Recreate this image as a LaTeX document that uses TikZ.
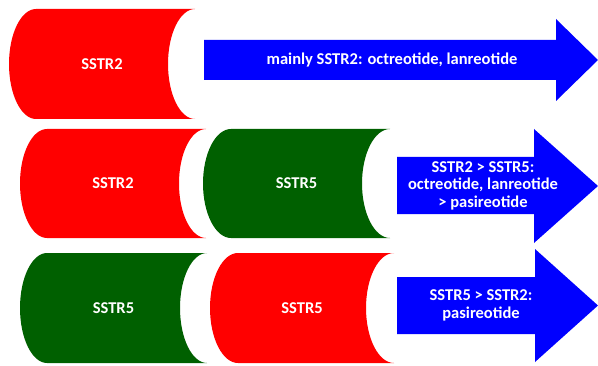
\documentclass[tikz,border=0pt]{standalone}
\usepackage{fontspec}
\setmainfont{Carlito}
\definecolor{sred}{RGB}{255,0,0}
\definecolor{sgreen}{RGB}{0,96,0}
\definecolor{sblue}{RGB}{0,0,255}
% #1 name, #2 colour, #3 x0, #4 x1, #5 top, #6 bottom, #7 r, #8 text
\newcommand\drawcyl[8]{%
  \fill[#2] ({#3+#7},#5) -- (#4,#5)
    arc[start angle=90, end angle=270, x radius=#7, y radius={(#5-#6)/2}]
    -- ({#3+#7},#6)
    arc[start angle=270, end angle=90, x radius=#7, y radius={(#5-#6)/2}]
    -- cycle;
  \node[lbl] (#1) at ({(#3+#4)/2},{(#5+#6)/2}) {#8};}
% #1 name, #2 rect x0, #3 head x, #4 rect top, #5 rect bottom, #6 head top, #7 head bottom, #8 text x, #9 text
\newcommand\drawarrow[9]{%
  \fill[sblue] (#2,#4) -- (#3,#4) -- (#3,#6) -- (598,{(#6+#7)/2}) -- (#3,#7) -- (#3,#5) -- (#2,#5) -- cycle;
  \node[lbl,align=center] (#1) at (#8,{(#4+#5)/2}) {#9};}
\begin{document}
\begin{tikzpicture}[x=1pt,y=1pt,
  lbl/.style={text=white,font=\fontsize{16.5}{17.5}\selectfont\bfseries,inner sep=0pt}]
\useasboundingbox (0,0) rectangle (598,365);
% row 1
\drawcyl{r1a}{sred}{9}{195}{356}{246}{27}{SSTR2}
\drawarrow{a1}{204}{556}{325}{285}{346}{264}{392}{mainly SSTR2: octreotide, lanreotide}
% row 2
\drawcyl{r2a}{sred}{20}{206}{236}{127}{27}{SSTR2}
\drawcyl{r2b}{sgreen}{203}{390}{236}{127}{28}{SSTR5}
\drawarrow{a2}{397}{534}{208}{151}{236}{122}{483}{SSTR2 > SSTR5:\\octreotide, lanreotide\\> pasireotide}
% row 3
\drawcyl{r3a}{sgreen}{20}{207}{112}{2}{27}{SSTR5}
\drawcyl{r3b}{sred}{210}{394}{112}{2}{28}{SSTR5}
\drawarrow{a3}{397}{535}{88}{31}{116}{3}{481}{SSTR5 > SSTR2:\\pasireotide}
\end{tikzpicture}
\end{document}
